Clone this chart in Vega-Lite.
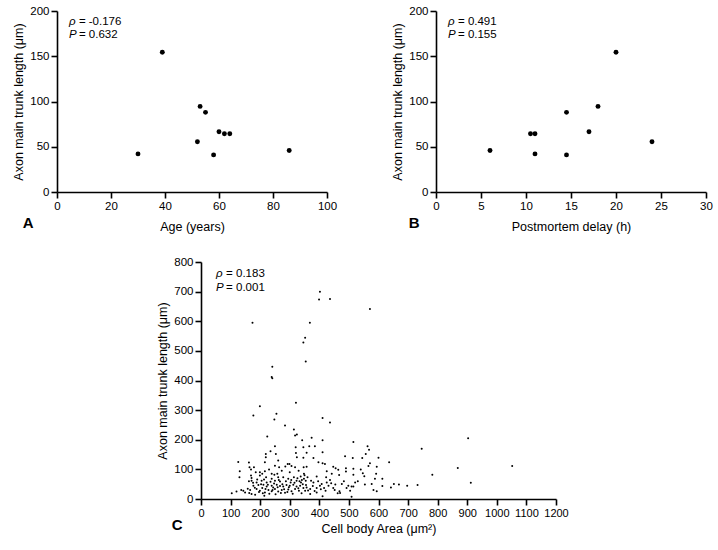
{
  "$schema": "https://vega.github.io/schema/vega-lite/v6.json",
  "padding": {"left": 12, "top": 5, "right": 2, "bottom": 5},
  "background": "white",
  "config": {
    "font": "Liberation Sans",
    "view": {"stroke": null},
    "axis": {
      "grid": false,
      "domainColor": "black",
      "domainWidth": 1.6,
      "tickColor": "black",
      "tickWidth": 1.6,
      "tickSize": 6,
      "labelFont": "Liberation Sans",
      "labelFontSize": 11.5,
      "labelColor": "black",
      "labelPadding": 2,
      "labelOverlap": false,
      "labelFlush": false,
      "format": "d",
      "titleFont": "Liberation Sans",
      "titleFontSize": 12.5,
      "titleFontWeight": "normal",
      "titleColor": "black"
    },
    "axisY": {"titlePadding": 4},
    "title": {
      "orient": "bottom",
      "anchor": "start",
      "frame": "bounds",
      "fontSize": 15,
      "fontWeight": "bold",
      "color": "black",
      "font": "Liberation Sans",
      "offset": -17
    }
  },
  "datasets": {
    "subjects": [
      {"age": 30, "delay": 11, "length": 42.1},
      {"age": 39, "delay": 20, "length": 154.5},
      {"age": 53, "delay": 18, "length": 94.6},
      {"age": 55, "delay": 14.5, "length": 88},
      {"age": 60, "delay": 17, "length": 66.5},
      {"age": 62, "delay": 10.5, "length": 64.3},
      {"age": 64, "delay": 11, "length": 64.3},
      {"age": 52, "delay": 24, "length": 55.5},
      {"age": 58, "delay": 14.5, "length": 41},
      {"age": 86, "delay": 6, "length": 45.8}
    ],
    "cells": [
      {"area": 402, "length": 700}, {"area": 399, "length": 673}, {"area": 436, "length": 675}, {"area": 571, "length": 641},
      {"area": 174, "length": 595}, {"area": 368, "length": 595}, {"area": 352, "length": 544}, {"area": 346, "length": 528},
      {"area": 354, "length": 464}, {"area": 241, "length": 446}, {"area": 239, "length": 412}, {"area": 241, "length": 408},
      {"area": 199, "length": 313}, {"area": 321, "length": 325}, {"area": 177, "length": 282}, {"area": 255, "length": 288},
      {"area": 411, "length": 273}, {"area": 248, "length": 268}, {"area": 436, "length": 258}, {"area": 284, "length": 248},
      {"area": 314, "length": 235}, {"area": 324, "length": 218}, {"area": 318, "length": 214}, {"area": 224, "length": 211},
      {"area": 342, "length": 198}, {"area": 250, "length": 178}, {"area": 320, "length": 175}, {"area": 346, "length": 175},
      {"area": 235, "length": 161}, {"area": 219, "length": 152}, {"area": 219, "length": 141}, {"area": 253, "length": 152},
      {"area": 321, "length": 155}, {"area": 324, "length": 141}, {"area": 261, "length": 130}, {"area": 126, "length": 125},
      {"area": 162, "length": 123}, {"area": 216, "length": 124}, {"area": 293, "length": 118}, {"area": 299, "length": 118},
      {"area": 164, "length": 107}, {"area": 179, "length": 107}, {"area": 250, "length": 112}, {"area": 264, "length": 107},
      {"area": 306, "length": 111}, {"area": 318, "length": 107}, {"area": 347, "length": 107}, {"area": 131, "length": 94},
      {"area": 199, "length": 90}, {"area": 216, "length": 94}, {"area": 130, "length": 73}, {"area": 169, "length": 79},
      {"area": 171, "length": 71}, {"area": 199, "length": 79}, {"area": 207, "length": 85}, {"area": 239, "length": 85},
      {"area": 248, "length": 82}, {"area": 258, "length": 85}, {"area": 220, "length": 73}, {"area": 239, "length": 68},
      {"area": 261, "length": 73}, {"area": 278, "length": 73}, {"area": 295, "length": 68}, {"area": 314, "length": 73},
      {"area": 171, "length": 62}, {"area": 188, "length": 56}, {"area": 205, "length": 62}, {"area": 222, "length": 56},
      {"area": 250, "length": 62}, {"area": 267, "length": 59}, {"area": 303, "length": 56}, {"area": 323, "length": 62},
      {"area": 338, "length": 56}, {"area": 348, "length": 68}, {"area": 177, "length": 45}, {"area": 194, "length": 47},
      {"area": 211, "length": 48}, {"area": 222, "length": 42}, {"area": 239, "length": 45}, {"area": 244, "length": 39},
      {"area": 256, "length": 48}, {"area": 267, "length": 44}, {"area": 278, "length": 42}, {"area": 289, "length": 47},
      {"area": 300, "length": 45}, {"area": 312, "length": 48}, {"area": 323, "length": 42}, {"area": 335, "length": 45},
      {"area": 346, "length": 37}, {"area": 143, "length": 28}, {"area": 149, "length": 22}, {"area": 166, "length": 30},
      {"area": 171, "length": 17}, {"area": 188, "length": 34}, {"area": 199, "length": 28}, {"area": 207, "length": 37},
      {"area": 216, "length": 22}, {"area": 228, "length": 30}, {"area": 239, "length": 26}, {"area": 250, "length": 34},
      {"area": 261, "length": 25}, {"area": 273, "length": 30}, {"area": 284, "length": 21}, {"area": 295, "length": 32},
      {"area": 306, "length": 26}, {"area": 318, "length": 34}, {"area": 331, "length": 28}, {"area": 340, "length": 19},
      {"area": 183, "length": 14}, {"area": 214, "length": 11}, {"area": 104, "length": 19}, {"area": 352, "length": 28},
      {"area": 374, "length": 207}, {"area": 411, "length": 198}, {"area": 366, "length": 178}, {"area": 385, "length": 178},
      {"area": 515, "length": 192}, {"area": 563, "length": 178}, {"area": 568, "length": 166}, {"area": 411, "length": 158},
      {"area": 357, "length": 156}, {"area": 346, "length": 139}, {"area": 380, "length": 138}, {"area": 397, "length": 124},
      {"area": 411, "length": 121}, {"area": 419, "length": 118}, {"area": 487, "length": 144}, {"area": 513, "length": 138},
      {"area": 545, "length": 138}, {"area": 557, "length": 152}, {"area": 600, "length": 139}, {"area": 571, "length": 121},
      {"area": 357, "length": 109}, {"area": 447, "length": 109}, {"area": 455, "length": 104}, {"area": 464, "length": 99},
      {"area": 490, "length": 104}, {"area": 490, "length": 93}, {"area": 425, "length": 94}, {"area": 442, "length": 85},
      {"area": 515, "length": 102}, {"area": 348, "length": 85}, {"area": 360, "length": 73}, {"area": 391, "length": 76},
      {"area": 423, "length": 73}, {"area": 467, "length": 81}, {"area": 515, "length": 82}, {"area": 547, "length": 87},
      {"area": 592, "length": 85}, {"area": 594, "length": 109}, {"area": 566, "length": 111}, {"area": 552, "length": 77},
      {"area": 354, "length": 62}, {"area": 380, "length": 56}, {"area": 408, "length": 51}, {"area": 425, "length": 56},
      {"area": 440, "length": 53}, {"area": 454, "length": 49}, {"area": 476, "length": 51}, {"area": 498, "length": 45},
      {"area": 509, "length": 42}, {"area": 521, "length": 56}, {"area": 554, "length": 49}, {"area": 577, "length": 51},
      {"area": 357, "length": 39}, {"area": 369, "length": 34}, {"area": 391, "length": 37}, {"area": 402, "length": 45},
      {"area": 416, "length": 37}, {"area": 431, "length": 45}, {"area": 447, "length": 37}, {"area": 468, "length": 26},
      {"area": 492, "length": 37}, {"area": 515, "length": 42}, {"area": 369, "length": 17}, {"area": 391, "length": 22},
      {"area": 411, "length": 9}, {"area": 462, "length": 19}, {"area": 504, "length": 28}, {"area": 509, "length": 8},
      {"area": 583, "length": 30}, {"area": 594, "length": 26}, {"area": 746, "length": 170}, {"area": 636, "length": 124},
      {"area": 868, "length": 105}, {"area": 782, "length": 82}, {"area": 613, "length": 68}, {"area": 588, "length": 68},
      {"area": 613, "length": 44}, {"area": 652, "length": 51}, {"area": 669, "length": 49}, {"area": 642, "length": 39},
      {"area": 697, "length": 45}, {"area": 732, "length": 47}, {"area": 903, "length": 205}, {"area": 912, "length": 55},
      {"area": 1052, "length": 111},
      {"area": 158, "length": 35}, {"area": 163, "length": 20}, {"area": 176, "length": 55}, {"area": 182, "length": 38},
      {"area": 190, "length": 66}, {"area": 196, "length": 24}, {"area": 203, "length": 50}, {"area": 209, "length": 19},
      {"area": 213, "length": 66}, {"area": 218, "length": 34}, {"area": 226, "length": 48}, {"area": 231, "length": 18},
      {"area": 235, "length": 58}, {"area": 242, "length": 30}, {"area": 247, "length": 52}, {"area": 252, "length": 16},
      {"area": 259, "length": 40}, {"area": 263, "length": 64}, {"area": 270, "length": 20}, {"area": 275, "length": 50},
      {"area": 281, "length": 33}, {"area": 287, "length": 60}, {"area": 292, "length": 24}, {"area": 297, "length": 40},
      {"area": 305, "length": 64}, {"area": 310, "length": 18}, {"area": 316, "length": 55}, {"area": 326, "length": 70},
      {"area": 329, "length": 36}, {"area": 333, "length": 60}, {"area": 337, "length": 76}, {"area": 341, "length": 64},
      {"area": 344, "length": 50}, {"area": 350, "length": 80}, {"area": 355, "length": 47}, {"area": 362, "length": 29},
      {"area": 372, "length": 62}, {"area": 378, "length": 44}, {"area": 384, "length": 27}, {"area": 396, "length": 60},
      {"area": 405, "length": 33}, {"area": 421, "length": 28}, {"area": 436, "length": 64}, {"area": 452, "length": 30},
      {"area": 483, "length": 60}, {"area": 530, "length": 60}, {"area": 540, "length": 100}, {"area": 470, "length": 20},
      {"area": 169, "length": 100}, {"area": 185, "length": 90}, {"area": 230, "length": 100}, {"area": 273, "length": 95},
      {"area": 285, "length": 110}, {"area": 330, "length": 95}, {"area": 300, "length": 90}, {"area": 162, "length": 60},
      {"area": 136, "length": 30}, {"area": 120, "length": 25}
    ]
  },
  "spacing": 23,
  "vconcat": [
    {
      "spacing": 54,
      "hconcat": [
        {
          "width": 270,
          "height": 181,
          "title": {"text": "A", "dx": 10},
          "layer": [
            {
              "data": {"name": "subjects"},
              "mark": {"type": "circle", "size": 24, "opacity": 1, "color": "black"},
              "encoding": {
                "x": {"field": "age", "type": "quantitative", "scale": {"domain": [0, 100]}, "axis": {"values": [0, 20, 40, 60, 80, 100], "tickCount": 6, "title": "Age (years)", "titlePadding": 9, "labelOverlap": false}},
                "y": {"field": "length", "type": "quantitative", "scale": {"domain": [0, 200]}, "axis": {"values": [0, 50, 100, 150, 200], "tickCount": 5, "title": "Axon main trunk length (μm)", "labelOverlap": false}}
              }
            },
            {
              "data": {"values": [{"t": "ρ"}]},
              "mark": {"type": "text", "align": "left", "baseline": "middle", "fontSize": 11.5, "fontStyle": "italic", "color": "black"},
              "encoding": {"x": {"datum": 4.4}, "y": {"datum": 188}, "text": {"field": "t"}}
            },
            {
              "data": {"values": [{"t": "= -0.176"}]},
              "mark": {"type": "text", "align": "left", "baseline": "middle", "fontSize": 11.5, "dx": 10, "color": "black"},
              "encoding": {"x": {"datum": 4.4}, "y": {"datum": 188}, "text": {"field": "t"}}
            },
            {
              "data": {"values": [{"t": "P"}]},
              "mark": {"type": "text", "align": "left", "baseline": "middle", "fontSize": 11.5, "fontStyle": "italic", "color": "black"},
              "encoding": {"x": {"datum": 4.4}, "y": {"datum": 173.5}, "text": {"field": "t"}}
            },
            {
              "data": {"values": [{"t": "= 0.632"}]},
              "mark": {"type": "text", "align": "left", "baseline": "middle", "fontSize": 11.5, "dx": 10, "color": "black"},
              "encoding": {"x": {"datum": 4.4}, "y": {"datum": 173.5}, "text": {"field": "t"}}
            }
          ]
        },
        {
          "width": 270,
          "height": 181,
          "title": {"text": "B", "dx": 17},
          "layer": [
            {
              "data": {"name": "subjects"},
              "mark": {"type": "circle", "size": 24, "opacity": 1, "color": "black"},
              "encoding": {
                "x": {"field": "delay", "type": "quantitative", "scale": {"domain": [0, 30]}, "axis": {"values": [0, 5, 10, 15, 20, 25, 30], "tickCount": 7, "title": "Postmortem delay (h)", "titlePadding": 9, "labelOverlap": false}},
                "y": {"field": "length", "type": "quantitative", "scale": {"domain": [0, 200]}, "axis": {"values": [0, 50, 100, 150, 200], "tickCount": 5, "title": "Axon main trunk length (μm)", "labelOverlap": false}}
              }
            },
            {
              "data": {"values": [{"t": "ρ"}]},
              "mark": {"type": "text", "align": "left", "baseline": "middle", "fontSize": 11.5, "fontStyle": "italic", "color": "black"},
              "encoding": {"x": {"datum": 1.33}, "y": {"datum": 188}, "text": {"field": "t"}}
            },
            {
              "data": {"values": [{"t": "= 0.491"}]},
              "mark": {"type": "text", "align": "left", "baseline": "middle", "fontSize": 11.5, "dx": 10, "color": "black"},
              "encoding": {"x": {"datum": 1.33}, "y": {"datum": 188}, "text": {"field": "t"}}
            },
            {
              "data": {"values": [{"t": "P"}]},
              "mark": {"type": "text", "align": "left", "baseline": "middle", "fontSize": 11.5, "fontStyle": "italic", "color": "black"},
              "encoding": {"x": {"datum": 1.33}, "y": {"datum": 173.5}, "text": {"field": "t"}}
            },
            {
              "data": {"values": [{"t": "= 0.155"}]},
              "mark": {"type": "text", "align": "left", "baseline": "middle", "fontSize": 11.5, "dx": 10, "color": "black"},
              "encoding": {"x": {"datum": 1.33}, "y": {"datum": 173.5}, "text": {"field": "t"}}
            }
          ]
        }
      ]
    },
    {
      "spacing": 0,
      "hconcat": [
        {
          "width": 99,
          "height": 10,
          "data": {"values": [{"t": ""}]},
          "mark": {"type": "text"},
          "encoding": {"text": {"field": "t"}}
        },
        {
          "width": 355,
          "height": 237,
          "title": {"text": "C", "dx": 15},
          "layer": [
            {
              "data": {"name": "cells"},
              "mark": {"type": "circle", "size": 4, "opacity": 1, "color": "black"},
              "encoding": {
                "x": {"field": "area", "type": "quantitative", "scale": {"domain": [0, 1200]}, "axis": {"values": [0, 100, 200, 300, 400, 500, 600, 700, 800, 900, 1000, 1100, 1200], "tickCount": 13, "title": "Cell body Area (μm²)", "titlePadding": 4, "labelOverlap": false, "labelFontSize": 11}},
                "y": {"field": "length", "type": "quantitative", "scale": {"domain": [0, 800]}, "axis": {"values": [0, 100, 200, 300, 400, 500, 600, 700, 800], "tickCount": 9, "title": "Axon main trunk length (μm)", "labelOverlap": false}}
              }
            },
            {
              "data": {"values": [{"t": "ρ"}]},
              "mark": {"type": "text", "align": "left", "baseline": "middle", "fontSize": 11.5, "fontStyle": "italic", "color": "black"},
              "encoding": {"x": {"datum": 51}, "y": {"datum": 758}, "text": {"field": "t"}}
            },
            {
              "data": {"values": [{"t": "= 0.183"}]},
              "mark": {"type": "text", "align": "left", "baseline": "middle", "fontSize": 11.5, "dx": 10, "color": "black"},
              "encoding": {"x": {"datum": 51}, "y": {"datum": 758}, "text": {"field": "t"}}
            },
            {
              "data": {"values": [{"t": "P"}]},
              "mark": {"type": "text", "align": "left", "baseline": "middle", "fontSize": 11.5, "fontStyle": "italic", "color": "black"},
              "encoding": {"x": {"datum": 51}, "y": {"datum": 711}, "text": {"field": "t"}}
            },
            {
              "data": {"values": [{"t": "= 0.001"}]},
              "mark": {"type": "text", "align": "left", "baseline": "middle", "fontSize": 11.5, "dx": 10, "color": "black"},
              "encoding": {"x": {"datum": 51}, "y": {"datum": 711}, "text": {"field": "t"}}
            }
          ]
        }
      ]
    }
  ]
}
